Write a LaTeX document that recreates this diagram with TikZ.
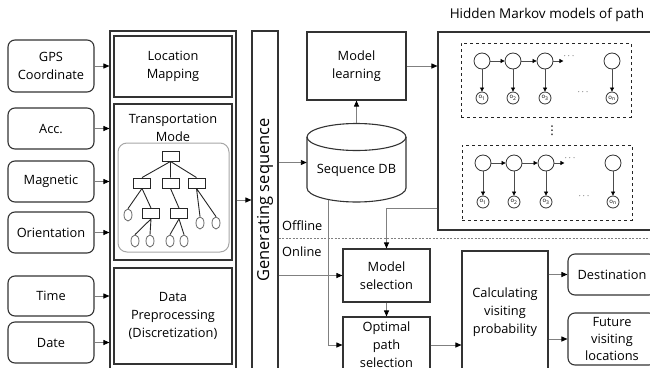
\documentclass[tikz,border=0pt]{standalone}
\usepackage{fontspec}
\setmainfont{Open Sans}
\newfontfamily\symfont{DejaVu Sans}
\usetikzlibrary{arrows.meta,shapes.geometric}
\begin{document}
\begin{tikzpicture}[x=1pt,y=-1pt,
 box/.style={draw=black!80, line width=1.1pt, align=center, inner sep=0pt, font=\fontsize{12.8}{18}\selectfont},
 rbox/.style={box, rounded corners=7pt},
 con/.style={draw=black!50, line width=0.9pt, -{Triangle[length=6pt,width=5pt,color=black]}},
 hid/.style={circle, draw=black!80, line width=0.8pt, minimum size=16pt, inner sep=0pt},
 obs/.style={circle, draw=black!80, line width=0.8pt, minimum size=12pt, inner sep=0pt, font=\fontsize{6}{6}\selectfont},
 harr/.style={draw=black!70, line width=0.7pt, -{Triangle[length=4pt,width=4pt,color=black]}},
 hmmbox/.style={draw=black!85, dashed, line width=1pt, inner sep=0pt},
 lbl/.style={font=\fontsize{12.8}{18}\selectfont, inner sep=0pt, align=center},
 dots/.style={inner sep=0pt, font=\fontsize{9}{9}\selectfont},
 tbox/.style={draw=black!85, line width=0.9pt, minimum width=17pt, minimum height=10pt, inner sep=0pt},
 tleaf/.style={ellipse, draw=black!60, line width=0.8pt, minimum width=8pt, minimum height=12pt, inner sep=0pt},
 tline/.style={draw=black!85, line width=0.9pt}
]
\useasboundingbox (0,0) rectangle (650,367);
% input boxes
\node[rbox, minimum width=86pt, minimum height=52pt] (gps) at (51,66) {GPS\\Coordinate};
\node[rbox, minimum width=86pt, minimum height=41pt] (acc) at (51,128.5) {Acc.};
\node[rbox, minimum width=86pt, minimum height=41pt] (mag) at (51,181.5) {Magnetic};
\node[rbox, minimum width=86pt, minimum height=41pt] (ori) at (51,232.5) {Orientation};
\node[rbox, minimum width=86pt, minimum height=40pt] (time) at (51,296) {Time};
\node[rbox, minimum width=86pt, minimum height=41pt] (date) at (51,342.5) {Date};
% outer frame
\node[draw=black!80, line width=1.1pt, minimum width=126pt, minimum height=350pt, inner sep=0pt] (frame) at (173,206) {};
\foreach \n in {gps,acc,mag,ori,time,date}{\draw[con] (\n.east) -- (\n.east -| frame.west);}
% inner boxes
\node[box, minimum width=118pt, minimum height=61pt] (loc) at (173,66.5) {Location\\Mapping};
\node[box, minimum width=118pt, minimum height=156pt] (trans) at (173,182) {};
\node[lbl] (transl) at (173,127.5) {Transportation\\Mode};
\node[box, minimum width=118pt, minimum height=96pt] (prep) at (173,316) {Data\\Preprocessing\\(Discretization)};
\node[draw=black!35, line width=1pt, rounded corners=9pt, minimum width=111pt, minimum height=109pt, inner sep=0pt] (tree) at (173.5,197.5) {};
% tree
\node[tbox] (t0) at (170.5,156) {};
\node[tbox] (t1) at (142,183) {};
\node[tbox] (t2) at (170.5,183) {};
\node[tbox] (t3) at (196.5,183) {};
\node[tbox] (t4) at (151,213.5) {};
\node[tbox] (t5) at (179,213.5) {};
\node[tleaf] (l1) at (128,215) {};
\node[tleaf] (l2) at (135,241) {};
\node[tleaf] (l3) at (150,241) {};
\node[tleaf] (l4) at (170,241) {};
\node[tleaf] (l5) at (184,241) {};
\node[tleaf] (l6) at (200,223) {};
\node[tleaf] (l7) at (216,223) {};
\draw[tline] (t0.south) -- (t1.north) (t0.south) -- (t2.north) (t0.south) -- (t3.north);
\draw[tline] (t1.south) -- (l1.north) (t1.south) -- (t4.north);
\draw[tline] (t2.south) -- (t5.north);
\draw[tline] (t3.south) -- (l6.north) (t3.south) -- (l7.north);
\draw[tline] (t4.south) -- (l2.north) (t4.south) -- (l3.north);
\draw[tline] (t5.south) -- (l4.north) (t5.south) -- (l5.north);
% generating sequence
\node[box, minimum width=26pt, minimum height=350pt] (gen) at (265,206) {};
\node[rotate=90, font=\fontsize{16.5}{16.5}\selectfont, inner sep=0pt] (genl) at (265,200) {Generating sequence};
\coordinate (y200) at (0,200);
\draw[con] (frame.east |- y200) -- (gen.west |- y200);
% model learning and DB
\node[box, minimum width=99pt, minimum height=68pt] (ml) at (356.5,66) {Model\\learning};
\node[minimum width=99pt, minimum height=79pt, inner sep=0pt] (db) at (356.5,162.5) {};
\draw[draw=black!80, line width=1.1pt, fill=white] (307,137) -- (307,188) arc[start angle=180, end angle=360, x radius=49.5pt, y radius=14pt] -- (406,137);
\draw[draw=black!80, line width=1.1pt] (356.5,137) ellipse[x radius=49.5pt, y radius=13.5pt];
\node[lbl] (dbl) at (356.5,170) {Sequence DB};
\draw[con] (db.north) -- (ml.south);
\draw[con] (gen.east |- db.west) -- (db.west);
% HMM frame
\node[draw=black!80, line width=1.1pt, minimum width=222pt, minimum height=198pt, inner sep=0pt] (hmm) at (549,131) {};
\node[lbl, font=\fontsize{13.5}{18}\selectfont] (hmmt) at (547,15) {Hidden Markov models of path};
\draw[con] (ml.east) -- (ml.east -| hmm.west);
% box 1
\node[hmmbox, minimum width=170pt, minimum height=74pt] (b1) at (546,80) {};
\node[hid] (h11) at (482,61) {};
\node[hid] (h12) at (513,61) {};
\node[hid] (h13) at (545,61) {};
\node[hid] (h1n) at (612,61) {};
\node[dots] (d11) at (569,56) {$\cdots$};
\node[obs] (o11) at (482,98) {o\textsubscript{1}};
\node[obs] (o12) at (513,98) {o\textsubscript{2}};
\node[obs] (o13) at (545,98) {o\textsubscript{3}};
\node[obs] (o1n) at (612,98) {o\textsubscript{n}};
\node[dots] (d12) at (583,92) {$\cdots$};
\draw[harr] (h11) -- (h12);
\draw[harr] (h12) -- (h13);
\draw[harr] (h13.east) -- (d11.west |- h13.east);
\foreach \a/\b in {h11/o11,h12/o12,h13/o13,h1n/o1n}{\draw[harr] (\a) -- (\b);}
\node[inner sep=0pt, font=\symfont\fontsize{12}{12}\selectfont] (vd) at (552,131) {⋮};
% box 2
\node[hmmbox, minimum width=170pt, minimum height=75pt] (b2) at (547,182.5) {};
\node[hid] (h21) at (483,163) {};
\node[hid] (h22) at (514,163) {};
\node[hid] (h23) at (546,163) {};
\node[hid] (h2n) at (613,163) {};
\node[dots] (d21) at (570,158) {$\cdots$};
\node[obs] (o21) at (483,202) {o\textsubscript{1}};
\node[obs] (o22) at (514,202) {o\textsubscript{2}};
\node[obs] (o23) at (546,202) {o\textsubscript{3}};
\node[obs] (o2n) at (613,202) {o\textsubscript{n}};
\node[dots] (d22) at (584,196) {$\cdots$};
\draw[harr] (h21) -- (h22);
\draw[harr] (h22) -- (h23);
\draw[harr] (h23.east) -- (d21.west |- h23.east);
\foreach \a/\b in {h21/o21,h22/o22,h23/o23,h2n/o2n}{\draw[harr] (\a) -- (\b);}
% online part
\node[box, minimum width=87pt, minimum height=53pt] (msel) at (386.5,275.5) {Model\\selection};
\node[box, minimum width=87pt, minimum height=56pt] (opt) at (386.5,345) {Optimal\\path\\selection};
\node[box, minimum width=86pt, minimum height=122pt] (calc) at (505,312) {Calculating\\visiting\\probability};
\node[rbox, minimum width=88pt, minimum height=41pt] (dest) at (612,274.5) {Destination};
\node[rbox, minimum width=88pt, minimum height=52pt, font=\fontsize{12.8}{17}\selectfont] (fut) at (612,339) {Future\\visiting\\locations};
\coordinate (yhm) at (0,208);
\draw[con] (hmm.west |- yhm) -| (msel.north);
\draw[con] (msel.south) -- (opt.north);
\draw[con] (gen.east |- msel.west) -- (msel.west);
\coordinate (dbb) at (328,199.5);
\draw[con] (dbb) |- (opt.west);
\draw[con] (opt.east) -- (opt.east -| calc.west);
\draw[con] (calc.east |- dest.west) -- (dest.west);
\draw[con] (calc.east |- fut.west) -- (fut.west);
% offline / online
\coordinate (offl) at (0,238);
\coordinate (offr) at (650,238);
\draw[draw=black!50, line width=0.7pt, dash pattern=on 2pt off 1.5pt] (gen.east |- offl) -- (offr);
\node[lbl, anchor=west] (offt) at (282,226) {Offline};
\node[lbl, anchor=west] (ont) at (282,252) {Online};
\end{tikzpicture}
\end{document}
